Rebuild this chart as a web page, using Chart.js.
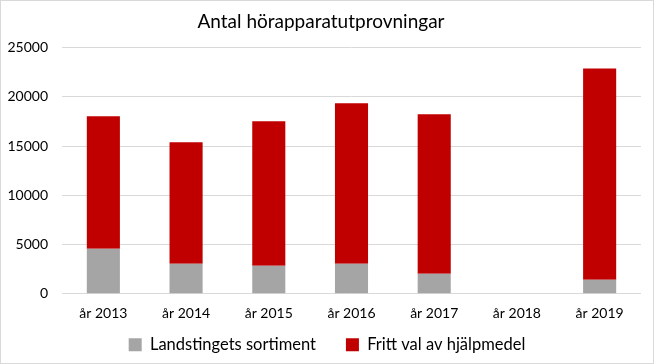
<!DOCTYPE html>
<html>
<head>
<meta charset="utf-8">
<script src="https://cdn.jsdelivr.net/npm/chart.js@4"></script>
<style>
	body { margin: 0; background: #fff; }
	#wrap { width: 652px; height: 362px; border: 1px solid #d9d9d9; position: relative; }
</style>
</head>
<body>
<div id="wrap"><canvas id="chart1"></canvas></div>
<script>
//=============== data ===============
const years = ['år 2013', 'år 2014', 'år 2015', 'år 2016', 'år 2017', 'år 2018', 'år 2019'];
const landstinget = [4560, 3040, 2840, 3040, 2030, null, 1420];
const frittVal = [13490, 12360, 14690, 16320, 16210, null, 21480];
const yTicks = [0, 5000, 10000, 15000, 20000, 25000];

Chart.defaults.font.family = 'Lato, "Open Sans", sans-serif';
Chart.defaults.color = '#000';

// legend: small padding for layout, wider gap between the two items when drawn
const legendFit = 4, legendGap = 30;
const legendGapPlugin = {
	id: 'legendGap',
	beforeDraw(chart) {
		const lg = chart.legend;
		const d = legendGap - legendFit;
		lg.options.labels.padding = legendGap;
		lg.left -= 2 * d - 12; lg.top -= d;
	},
	afterDraw(chart) {
		const lg = chart.legend;
		const d = legendGap - legendFit;
		lg.options.labels.padding = legendFit;
		lg.left += 2 * d - 12; lg.top += d;
	}
};

//=============== chart ===============
const ctx = document.getElementById('chart1').getContext('2d');
const myChart = new Chart(ctx, {
	type: 'bar',
	data: {
		labels: years,
		datasets: [
			{
				label: 'Landstingets sortiment',
				data: landstinget,
				backgroundColor: '#a5a5a5',
				borderWidth: 0,
			},
			{
				label: 'Fritt val av hjälpmedel',
				data: frittVal,
				backgroundColor: '#c00000',
				borderWidth: 0,
			}
		]
	},
	plugins: [legendGapPlugin],
	options: {
		responsive: true,
		maintainAspectRatio: false,
		animation: false,
		layout: { padding: { right: 12, left: 0, top: 0, bottom: 0 } },
		datasets: { bar: { categoryPercentage: 1, barPercentage: 0.4 } },
		plugins: {
			title: {
				display: true,
				text: 'Antal hörapparatutprovningar',
				font: { size: 19, weight: 'normal' },
				padding: { top: 9, bottom: 15 },
				color: '#000'
			},
			legend: {
				position: 'bottom',
				labels: {
					boxWidth: 13,
					boxHeight: 13,
					padding: legendFit,
					font: { size: 16.5 },
					color: '#000'
				}
			},
			tooltip: { enabled: false }
		},
		scales: {
			x: {
				stacked: true,
				grid: { display: false, drawTicks: false },
				border: { display: false },
				ticks: { padding: 11, font: { size: 14 }, maxRotation: 0 }
			},
			y: {
				stacked: true,
				min: 0,
				max: 25000,
				afterFit: scale => { scale.width = 61; },
				afterBuildTicks: scale => { scale.ticks = yTicks.map(v => ({ value: v })); },
				grid: { color: '#d9d9d9', drawTicks: false },
				border: { display: false },
				ticks: { padding: 14, font: { size: 14 }, callback: v => String(v) }
			}
		}
	}
});
</script>
</body>
</html>
